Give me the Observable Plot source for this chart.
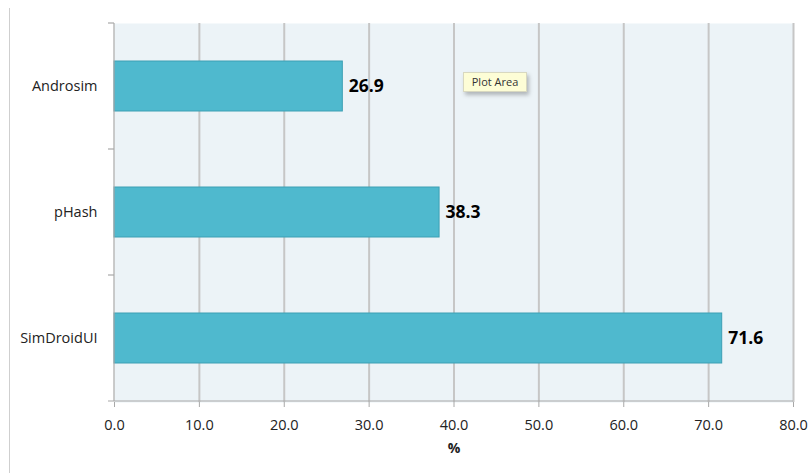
<!DOCTYPE html>
<html>
<head>
<meta charset="utf-8">
<script src="https://cdn.jsdelivr.net/npm/d3@7"></script>
<script src="https://cdn.jsdelivr.net/npm/@observablehq/plot@0.6"></script>
<style>
  html, body { margin: 0; padding: 0; background: #fff; }
  #wrap { position: relative; width: 812px; height: 473px; overflow: hidden; }
  #edge { position: absolute; left: 9px; top: 8px; width: 0; height: 470px; border-left: 1.5px solid #cfcfcf; }
  #tip {
    position: absolute; left: 463px; top: 72px; width: 62px; height: 18px;
    background: #fdfdd6; border: 1px solid #d8d8c0;
    box-shadow: 2px 3px 4px rgba(0,0,0,0.25);
    font: 11px "Open Sans", sans-serif; color: #333; line-height: 18px; text-align: center;
  }
</style>
</head>
<body>
<div id="wrap"><div id="edge"></div></div>
<script>
// Similarity scores (%) per method
const methods = ["Androsim", "pHash", "SimDroidUI"];
const scores = [26.9, 38.3, 71.6];
const xTicks = [0, 10, 20, 30, 40, 50, 60, 70, 80];
const axisTitle = "%";
const hoverNote = "Plot Area";

const rows = methods.map((m, i) => ({method: m, score: scores[i]}));
const font = "'Open Sans', sans-serif";

const chart = Plot.plot({
  width: 812,
  height: 473,
  marginLeft: 114,
  marginRight: 19,
  marginTop: 23,
  marginBottom: 71,
  style: {fontFamily: font, fontSize: "14.5px", color: "#222", background: "transparent"},
  x: {domain: [0, 80], ticks: xTicks, label: null},
  y: {domain: methods, paddingInner: 0.6, paddingOuter: 0.3, label: null},
  marks: [
    Plot.frame({fill: "#ecf3f7", stroke: null}),
    Plot.ruleX(xTicks.slice(1), {stroke: "#c6c6c6", strokeWidth: 2}),
    Plot.barX(rows, {x: "score", y: "method", fill: "#4fb9ce", stroke: "#3c9fb4", strokeWidth: 1}),
    Plot.text(rows, {x: "score", y: "method", text: d => d.score.toFixed(1), textAnchor: "start", dx: 6,
      fontWeight: "bold", fontSize: 17.5, fill: "#000"}),
    Plot.axisX({ticks: xTicks, tickFormat: d => d.toFixed(1), tickSize: 5, tickPadding: 12, label: null,
      stroke: "#a8a8a8", fill: "#222", fontSize: 14.5}),
    Plot.axisY({tickSize: 0, tickPadding: 17, fill: "#222", fontSize: 14.5, label: null}),
    Plot.text([axisTitle], {frameAnchor: "bottom", dy: 50, fontWeight: "bold", fontSize: 14, fill: "#222"})
  ]
});

document.getElementById("wrap").prepend(chart);

// Axis lines and category separators, placed from the chart's own scales
const xs = chart.scale("x");
const ys = chart.scale("y");
const svg = d3.select(chart);
const gap = (ys.step - ys.bandwidth) / 2;
const edges = methods.map(m => ys.apply(m) - gap).concat([ys.apply(methods[methods.length - 1]) + ys.bandwidth + gap]);
const x0 = xs.apply(0), x1 = xs.apply(80);
const yTop = edges[0], yBot = edges[edges.length - 1];
const g = svg.append("g").attr("stroke", "#a8a8a8").attr("stroke-width", 1.2);
g.append("line").attr("x1", x0).attr("x2", x0).attr("y1", yTop).attr("y2", yBot);
g.append("line").attr("x1", x0 - 6).attr("x2", x1).attr("y1", yBot).attr("y2", yBot);
edges.slice(0, -1).forEach(y => {
  g.append("line").attr("x1", x0 - 6).attr("x2", x0).attr("y1", y).attr("y2", y);
});

// Hover note over the plot area
const tip = document.createElement("div");
tip.id = "tip";
tip.textContent = hoverNote;
document.getElementById("wrap").appendChild(tip);
</script>
</body>
</html>
